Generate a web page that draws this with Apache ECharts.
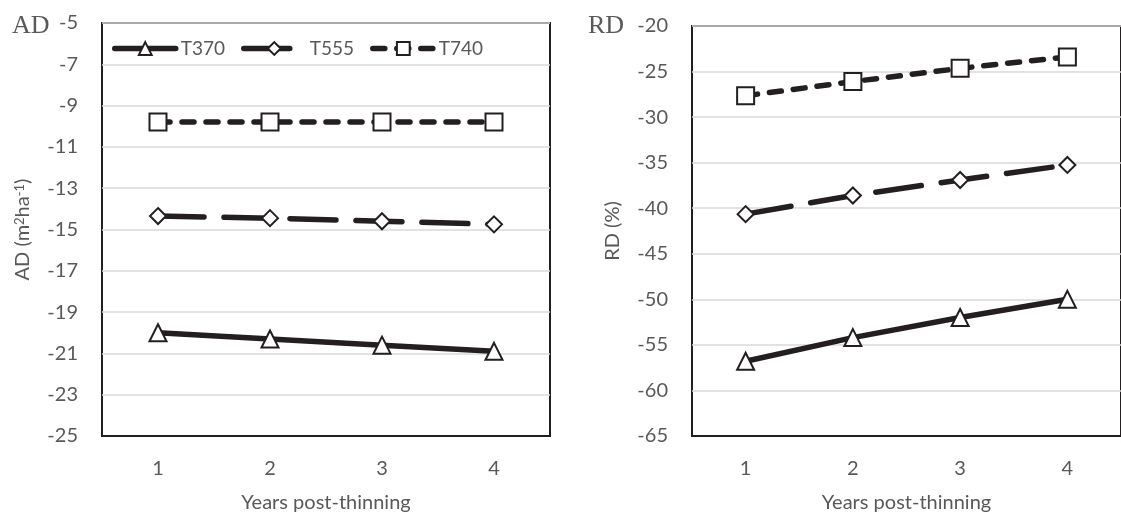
<!DOCTYPE html>
<html>
<head>
<meta charset="utf-8">
<script src="https://cdn.jsdelivr.net/npm/echarts@6/dist/echarts.min.js"></script>
<style>
  html, body { margin: 0; padding: 0; background: #fff; }
  #chart { width: 1121px; height: 518px; }
</style>
</head>
<body>
<div id="chart"></div>
<script>
// data
var years = ["1", "2", "3", "4"];
var seriesNames = ["T370", "T555", "T740"];

var adT370 = [-20.0, -20.3, -20.6, -20.9];
var adT555 = [-14.35, -14.45, -14.6, -14.75];
var adT740 = [-9.8, -9.8, -9.8, -9.8];

var rdT370 = [-56.8, -54.2, -52.0, -50.0];
var rdT555 = [-40.65, -38.6, -36.9, -35.25];
var rdT740 = [-27.65, -26.1, -24.65, -23.4];

var ink = "#231f20";
var grey = "#595959";
var font = "Lato";

// line look per treatment
var looks = {
  T370: { symbol: "triangle", symbolSize: 17, lineStyle: { width: 5.5, type: "solid" } },
  T555: { symbol: "diamond", symbolSize: 16, lineStyle: { width: 5.5, type: [46, 20], cap: "round" } },
  T740: { symbol: "rect", symbolSize: 17, lineStyle: { width: 5.5, type: [12, 12], cap: "round" } }
};

function mkSeries(name, data, idx) {
  var l = looks[name];
  return {
    name: name,
    type: "line",
    xAxisIndex: idx,
    yAxisIndex: idx,
    data: data,
    symbol: l.symbol,
    symbolSize: l.symbolSize,
    showAllSymbol: true,
    lineStyle: { color: ink, width: l.lineStyle.width, type: l.lineStyle.type, cap: l.lineStyle.cap || "butt" },
    itemStyle: { color: "#fff", borderColor: ink, borderWidth: 2 },
    emphasis: { disabled: true },
    z: 3
  };
}

function yAx(idx, min, max, step, name) {
  return {
    type: "value",
    gridIndex: idx,
    min: min,
    max: max,
    interval: step,
    name: name,
    nameLocation: "middle",
    nameGap: 69,
    nameRotate: 90,
    nameTextStyle: {
      color: grey, fontFamily: font, fontSize: 20,
      rich: { sup: { fontSize: 13, verticalAlign: "top", lineHeight: 13, color: grey, fontFamily: font, padding: [0, 0, 8, 0] } }
    },
    axisLine: { show: false },
    axisTick: { show: false },
    axisLabel: { color: grey, fontFamily: font, fontSize: 20, margin: 24 },
    splitLine: { lineStyle: { color: "#d9d9d9", width: 1.5 } }
  };
}

function xAx(idx) {
  return {
    type: "category",
    gridIndex: idx,
    data: years,
    boundaryGap: true,
    name: "Years post-thinning",
    nameLocation: "middle",
    nameGap: 57,
    nameTextStyle: { color: grey, fontFamily: font, fontSize: 20 },
    axisLine: { lineStyle: { color: ink, width: 2 } },
    axisTick: { show: false },
    axisLabel: { color: grey, fontFamily: font, fontSize: 20, margin: 23 },
    splitLine: { show: false }
  };
}

var chart = echarts.init(document.getElementById("chart"));

var option = {
  backgroundColor: "#fff",
  animation: false,
  title: [
    { text: "AD", left: 7, top: 8, textStyle: { fontFamily: "Liberation Serif", fontWeight: "normal", fontSize: 26, color: grey } },
    { text: "RD", left: 583, top: 8, textStyle: { fontFamily: "Liberation Serif", fontWeight: "normal", fontSize: 26, color: grey } }
  ],
  legend: {
    data: seriesNames,
    left: 107,
    top: 34,
    itemWidth: 61,
    itemHeight: 16,
    itemGap: 16,
    lineStyle: { width: 5.5, cap: "round" },
    textStyle: { color: grey, fontFamily: font, fontSize: 19 }
  },
  grid: [
    { left: 102, top: 23, width: 448, height: 416, show: true, borderColor: ink, borderWidth: 2, backgroundColor: "transparent" },
    { left: 692, top: 26, width: 436, height: 416, show: true, borderColor: ink, borderWidth: 2, backgroundColor: "transparent" }
  ],
  xAxis: [xAx(0), xAx(1)],
  yAxis: [
    yAx(0, -25, -5, 2, "AD (m{sup|2}ha{sup|-1})"),
    yAx(1, -65, -20, 5, "RD (%)")
  ],
  series: [
    mkSeries("T370", adT370, 0),
    mkSeries("T555", adT555, 0),
    mkSeries("T740", adT740, 0),
    mkSeries("T370", rdT370, 1),
    mkSeries("T555", rdT555, 1),
    mkSeries("T740", rdT740, 1)
  ]
};

chart.setOption(option);
</script>
</body>
</html>
